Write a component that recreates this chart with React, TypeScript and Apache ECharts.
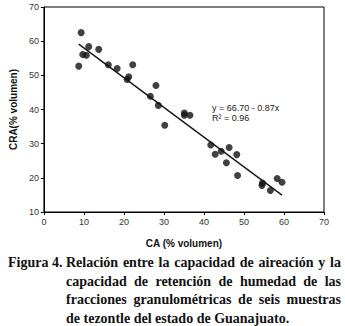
import React, { useEffect, useRef } from "react";
import * as echarts from "echarts";

const caX = [9.3, 8.7, 9.7, 10.6, 11.2, 13.7, 16.1, 18.3, 20.8, 21.2, 22.2, 26.6, 28.0, 28.6, 30.2, 35.1, 35.1, 36.5, 41.7, 42.8, 44.3, 46.3, 45.6, 48.2, 48.4, 54.5, 54.6, 56.6, 58.3, 59.5];
const craY = [62.5, 52.7, 56.1, 55.9, 58.4, 57.6, 53.1, 52.0, 48.8, 49.6, 53.1, 43.9, 47.0, 41.2, 35.4, 39.0, 38.3, 38.3, 29.6, 26.9, 27.8, 28.9, 24.4, 26.8, 20.7, 17.8, 18.5, 16.3, 19.8, 18.7];
const intercept = 66.7;
const slope = -0.87;
const equationLines = ["y = 66.70 - 0.87x", "R\u00b2 = 0.96"];
const captionLead = "Figura 4.";
const captionLines = [
  "Relación entre la capacidad de aireación y la",
  "capacidad de retención de humedad de las",
  "fracciones granulométricas de seis muestras",
  "de tezontle del estado de Guanajuato.",
];

const W = 345;
const H = 326;

export default function App() {
  const ref = useRef<HTMLDivElement>(null);
  useEffect(() => {
    if (!ref.current) return;
    const chart = echarts.init(ref.current, null, { renderer: "svg", width: W, height: H });
    const points = caX.map((x, i) => [x, craY[i]]);
    const xMin = Math.min(...caX);
    const xMax = Math.max(...caX);
    const fitLine = [
      [xMin, intercept + slope * xMin],
      [xMax, intercept + slope * xMax],
    ];

    const fs = 14;
    const capFont = `bold ${fs}px "Liberation Serif"`;
    const canvas = document.createElement("canvas");
    const ctx = canvas.getContext("2d")!;
    ctx.font = capFont;
    const leftX = 66;
    const rightX = 341;
    const baselines = [267.5, 286, 304.5, 323];
    const off = fs * 0.34;
    const capEls: any[] = [];
    capEls.push({
      type: "text",
      x: 8,
      y: baselines[0] - off,
      style: { text: captionLead, font: capFont, fill: "#111", verticalAlign: "middle", align: "left" },
    });
    captionLines.forEach((line, li) => {
      const words = line.split(" ");
      const widths = words.map((w) => ctx.measureText(w).width);
      const total = widths.reduce((a, b) => a + b, 0);
      const justify = li < captionLines.length - 1;
      const gap = justify ? (rightX - leftX - total) / (words.length - 1) : ctx.measureText(" ").width;
      let x = leftX;
      words.forEach((w, wi) => {
        capEls.push({
          type: "text",
          x,
          y: baselines[li] - off,
          style: { text: w, font: capFont, fill: "#111", verticalAlign: "middle", align: "left" },
        });
        x += widths[wi] + gap;
      });
    });

    chart.setOption({
      animation: false,
      backgroundColor: "#fff",
      grid: { left: 40, top: 7, right: 21, bottom: 114, show: true, borderColor: "#000", borderWidth: 1 },
      xAxis: {
        type: "value",
        min: 0,
        max: 70,
        interval: 10,
        name: "CA (% volumen)",
        nameLocation: "middle",
        nameGap: 26,
        nameTextStyle: { fontFamily: "Liberation Sans", fontWeight: "bold", fontSize: 10, color: "#111" },
        axisLine: { lineStyle: { color: "#000", width: 1 } },
        axisTick: { length: 3, lineStyle: { color: "#000" } },
        axisLabel: { fontFamily: "Liberation Sans", fontSize: 9, color: "#333", margin: 5 },
        splitLine: { show: false },
      },
      yAxis: {
        type: "value",
        min: 10,
        max: 70,
        interval: 10,
        name: "CRA(% volumen)",
        nameLocation: "middle",
        nameRotate: 90,
        nameGap: 22,
        nameTextStyle: { fontFamily: "Liberation Sans", fontWeight: "bold", fontSize: 10, color: "#111" },
        axisLine: { lineStyle: { color: "#000", width: 1 } },
        axisTick: { length: 3, lineStyle: { color: "#000" } },
        axisLabel: { fontFamily: "Liberation Sans", fontSize: 9, color: "#333", margin: 5 },
        splitLine: { show: false },
      },
      series: [
        {
          type: "scatter",
          data: points,
          symbol: "circle",
          symbolSize: 7,
          itemStyle: { color: "#111" },
          z: 3,
        },
        {
          type: "line",
          data: fitLine,
          showSymbol: false,
          lineStyle: { color: "#111", width: 1.3 },
          z: 2,
        },
      ],
      graphic: [
        {
          type: "text",
          x: 212,
          y: 108,
          style: { text: equationLines[0], font: '9px "Liberation Sans"', fill: "#222", verticalAlign: "middle" },
        },
        {
          type: "text",
          x: 212,
          y: 118,
          style: { text: equationLines[1], font: '9px "Liberation Sans"', fill: "#222", verticalAlign: "middle" },
        },
        ...capEls,
      ],
    });
    return () => chart.dispose();
  }, []);
  return <div ref={ref} style={{ position: "absolute", left: 0, top: 0, width: W, height: H }} />;
}
